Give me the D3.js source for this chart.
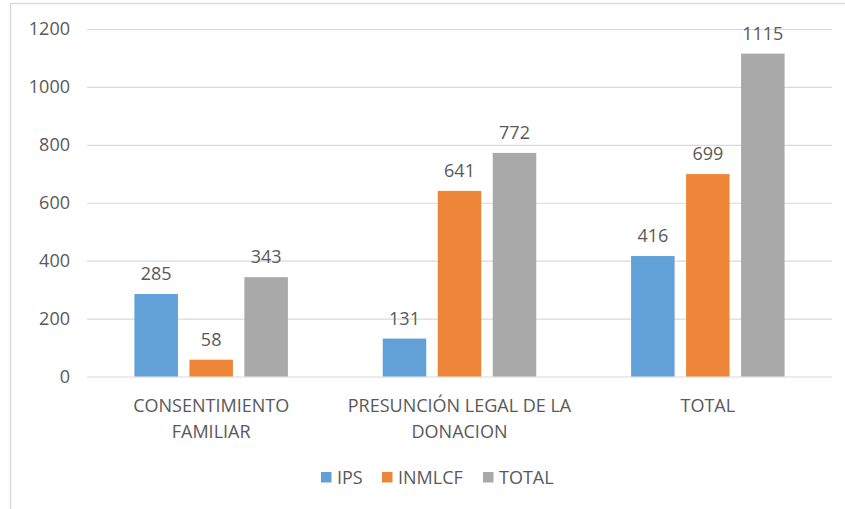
<!DOCTYPE html>
<html>
<head>
<meta charset="utf-8">
<script src="https://cdn.jsdelivr.net/npm/d3@7"></script>
<style>
  body { margin: 0; background: #fff; }
  text { font-family: "Open Sans", sans-serif; fill: #595959; }
</style>
</head>
<body>
<div id="chart-area"></div>
<script>
var categories = ["CONSENTIMIENTO FAMILIAR", "PRESUNCIÓN LEGAL DE LA DONACION", "TOTAL"];
var seriesNames = ["IPS", "INMLCF", "TOTAL"];
var ipsValues = [285, 131, 416];
var inmlcfValues = [58, 641, 699];
var totalValues = [343, 772, 1115];
var yTicks = [0, 200, 400, 600, 800, 1000, 1200];
var seriesColors = ["#62A0D8", "#EE8639", "#A9A9A9"];

var allValues = [ipsValues, inmlcfValues, totalValues];

var width = 845, height = 509;
var plot = {left: 87, right: 832, top: 29, bottom: 376.5};

var svg = d3.select("#chart-area")
    .append("svg")
        .attr("width", width)
        .attr("height", height);

// chart frame
svg.append("rect")
    .attr("x", 10.5)
    .attr("y", 3.5)
    .attr("width", 900)
    .attr("height", 600)
    .attr("fill", "none")
    .attr("stroke", "#d9d9d9")
    .attr("stroke-width", 1.5);

var y = d3.scaleLinear()
    .domain([0, 1200])
    .range([plot.bottom, plot.top]);

var x0 = d3.scaleBand()
    .domain(categories)
    .range([plot.left, plot.right]);

var groupW = 153.5;
var pad = (x0.bandwidth() - groupW) / 2;
var x1 = d3.scaleBand()
    .domain(seriesNames)
    .range([pad, pad + groupW])
    .paddingInner(0.209);

// gridlines + y labels
var yAxis = svg.append("g")
    .attr("class", "y-axis")
    .attr("transform", "translate(" + plot.left + ",0)")
    .call(d3.axisLeft(y)
        .tickValues(yTicks)
        .tickFormat(d3.format("d"))
        .tickSize(-(plot.right - plot.left))
        .tickPadding(17));

yAxis.select(".domain").remove();
yAxis.selectAll(".tick line")
    .attr("stroke", "#d9d9d9")
    .attr("stroke-width", 1.2);
yAxis.selectAll(".tick text")
    .style("font-size", "18px")
    .attr("fill", "#595959");

// bars
var rows = [];
categories.forEach(function(c, i) {
    seriesNames.forEach(function(s, j) {
        rows.push({cat: c, series: s, value: allValues[j][i], color: seriesColors[j]});
    });
});

var groups = svg.append("g").attr("class", "bars");

groups.selectAll("rect")
    .data(rows)
    .enter()
    .append("rect")
        .attr("x", d => x0(d.cat) + x1(d.series))
        .attr("y", d => y(d.value))
        .attr("width", x1.bandwidth())
        .attr("height", d => y(0) - y(d.value))
        .attr("fill", d => d.color);

groups.selectAll("text")
    .data(rows)
    .enter()
    .append("text")
        .attr("x", d => x0(d.cat) + x1(d.series) + x1.bandwidth() / 2)
        .attr("y", d => y(d.value) - 14)
        .attr("text-anchor", "middle")
        .style("font-size", "18px")
        .text(d => d.value);

// category labels (wrapped)
var catLabels = svg.append("g").attr("class", "x-axis");
categories.forEach(function(c) {
    var words = c.split(" ");
    var lines = [], line = [];
    var probe = catLabels.append("text").style("font-size", "18px");
    words.forEach(function(w) {
        line.push(w);
        probe.text(line.join(" "));
        if (probe.node().getComputedTextLength() > 225 && line.length > 1) {
            line.pop();
            lines.push(line.join(" "));
            line = [w];
        }
    });
    lines.push(line.join(" "));
    probe.remove();

    var t = catLabels.append("text")
        .attr("text-anchor", "middle")
        .style("font-size", "18px");
    lines.forEach(function(l, k) {
        t.append("tspan")
            .attr("x", x0(c) + x0.bandwidth() / 2)
            .attr("y", 412 + k * 25.5)
            .text(l);
    });
});

// legend
var legendX = [321, 382, 483];
var legend = svg.append("g").attr("class", "legend");
seriesNames.forEach(function(s, i) {
    legend.append("rect")
        .attr("x", legendX[i])
        .attr("y", 472)
        .attr("width", 10.5)
        .attr("height", 10.5)
        .attr("fill", seriesColors[i]);
    legend.append("text")
        .attr("x", legendX[i] + 16)
        .attr("y", 483.5)
        .style("font-size", "18px")
        .text(s);
});
</script>
</body>
</html>
